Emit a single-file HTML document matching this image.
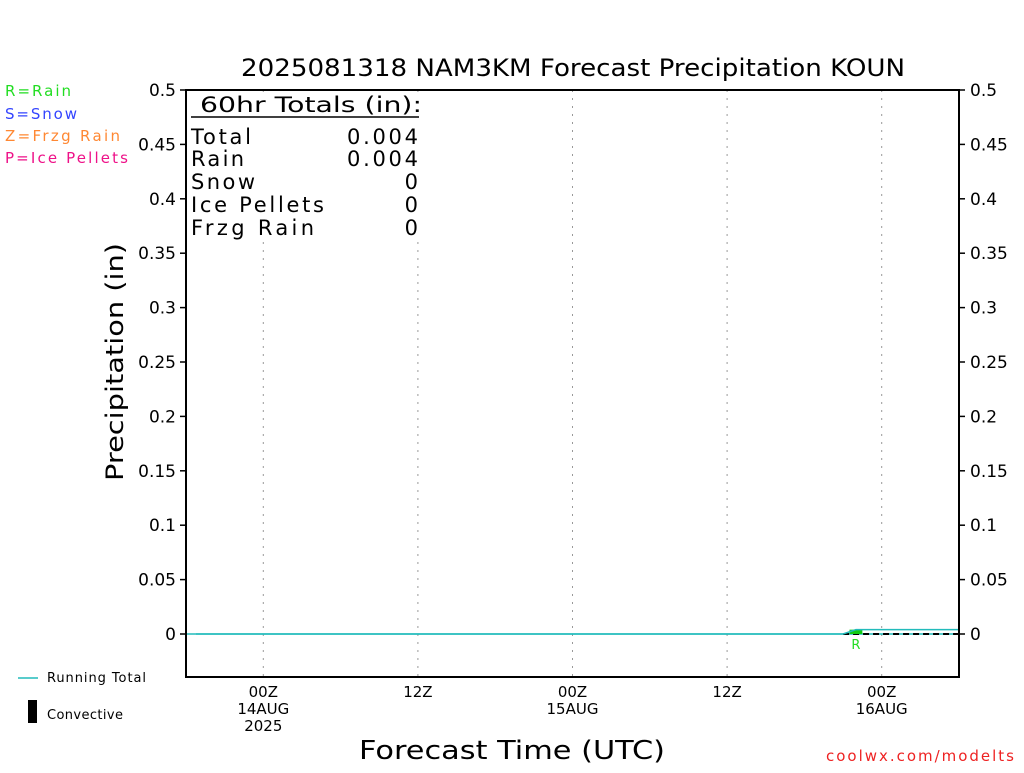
<!DOCTYPE html>
<html><head><meta charset="utf-8"><style>
body{margin:0;background:#fff;width:1024px;height:768px;overflow:hidden}
svg text{font-family:"DejaVu Sans","Liberation Sans",sans-serif}
</style></head><body>
<svg id="chart" width="1024" height="768" xmlns="http://www.w3.org/2000/svg">
<text x="241" y="76" font-size="24" textLength="664" lengthAdjust="spacingAndGlyphs" fill="#000">2025081318 NAM3KM Forecast Precipitation KOUN</text>
<g font-size="15">
<text x="5" y="96" fill="#22dd22" textLength="66">R=Rain</text>
<text x="5" y="119" fill="#3344ff" textLength="72">S=Snow</text>
<text x="5" y="141" fill="#ff8833" textLength="115">Z=Frzg Rain</text>
<text x="5" y="163" fill="#ee1188" textLength="123">P=Ice Pellets</text>
</g>
<g id="grid"></g>
<g id="marks"></g>
<rect x="186" y="90" width="773" height="587" fill="none" stroke="#000" stroke-width="2"/>
<g id="yticks" font-size="17"></g>
<g id="xticks" font-size="15"></g>
<text transform="translate(123,362) rotate(-90)" font-size="24" text-anchor="middle" textLength="238" lengthAdjust="spacingAndGlyphs">Precipitation (in)</text>
<text x="359" y="759" font-size="26" textLength="306" lengthAdjust="spacingAndGlyphs">Forecast Time (UTC)</text>
<g font-size="21" fill="#000">
<rect x="189" y="92" width="232" height="148" fill="#fff"/>
<text x="200" y="112" textLength="222" lengthAdjust="spacingAndGlyphs">60hr Totals (in):</text>
<line x1="191" y1="117" x2="419" y2="117" stroke="#000" stroke-width="1.5"/>
<text x="191" y="144" textLength="60">Total</text><text x="418" y="144" text-anchor="end" textLength="71">0.004</text>
<text x="191" y="166" textLength="53">Rain</text><text x="418" y="166" text-anchor="end" textLength="71">0.004</text>
<text x="191" y="189" textLength="64">Snow</text><text x="418" y="189" text-anchor="end">0</text>
<text x="191" y="212" textLength="133">Ice Pellets</text><text x="418" y="212" text-anchor="end">0</text>
<text x="191" y="235" textLength="123">Frzg Rain</text><text x="418" y="235" text-anchor="end">0</text>
</g>
<g font-size="13">
<line x1="18" y1="678" x2="38" y2="678" stroke="#22bbbb" stroke-width="1.5"/>
<text x="47" y="682" textLength="99">Running Total</text>
<rect x="28" y="700" width="9" height="23" fill="#000"/>
<text x="47" y="719" textLength="76">Convective</text>
</g>
<text x="826" y="761" font-size="15" fill="#ee2222" textLength="188">coolwx.com/modelts</text>
</svg>
<script>
const yTicks=[0,0.05,0.1,0.15,0.2,0.25,0.3,0.35,0.4,0.45,0.5];
const yLabels=["0","0.05","0.1","0.15","0.2","0.25","0.3","0.35","0.4","0.45","0.5"];
const xTickHours=[6,18,30,42,54];
const xTickLabels=[["00Z","14AUG","2025"],["12Z"],["00Z","15AUG"],["12Z"],["00Z","16AUG"]];
const rainHourly=[0,0,0,0,0,0,0,0,0,0,0,0,0,0,0,0,0,0,0,0,0,0,0,0,0,0,0,0,0,0,0,0,0,0,0,0,0,0,0,0,0,0,0,0,0,0,0,0,0,0,0,0,0.004,0,0,0,0,0,0,0,0];
const NS="http://www.w3.org/2000/svg";
const x0=186,x1=959,yb=634,yt=90;
const X=h=>x0+(x1-x0)*h/60;
const Y=v=>yb-(yb-yt)*v/0.5;
function mk(t,a,p){const e=document.createElementNS(NS,t);for(const k in a)e.setAttribute(k,a[k]);p.appendChild(e);return e;}
const yt_=document.getElementById('yticks'),xt=document.getElementById('xticks'),grid=document.getElementById('grid'),marks=document.getElementById('marks');
yTicks.forEach((v,i)=>{
 const y=Y(v);
 const l=mk('line',{x1:180,x2:186,y1:y,y2:y,stroke:'#000','stroke-width':1.5},yt_);
 
 
 const r=mk('line',{x1:959,x2:965,y1:y,y2:y,stroke:'#000','stroke-width':1.5},yt_);
 
 
 const t=mk('text',{x:176,y:y+6,'text-anchor':'end'},yt_);t.textContent=yLabels[i];
 
 
 const t2=mk('text',{x:970,y:y+6},yt_);t2.textContent=yLabels[i];
 
 
});
xTickHours.forEach((h,i)=>{
 const x=X(h);
 const g=mk('line',{x1:x,x2:x,y1:90,y2:677,stroke:'#999','stroke-dasharray':'2,6'},grid);
 
 
 xTickLabels[i].forEach((s,j)=>{
  const t=mk('text',{x:x,y:697+j*17,'text-anchor':'middle'},xt);t.textContent=s;
  
  
 });
});
const z=mk('line',{x1:x0+10,x2:x1,y1:yb,y2:yb,stroke:'#22bbbb','stroke-width':1.5},marks);


let first=rainHourly.findIndex(v=>v>0);
if(first>=0){
 const d=mk('line',{x1:X(first-1),x2:x1,y1:yb,y2:yb,stroke:'#000','stroke-width':2,'stroke-dasharray':'6,4'},marks);
 
 
}
rainHourly.forEach((v,h)=>{
 if(v<=0)return;
 const b=mk('rect',{x:X(h-0.5),y:Y(v),width:X(h+0.5)-X(h-0.5),height:yb-Y(v),fill:'#11cc11'},marks);
 
 
 const t=mk('text',{x:X(h),y:yb+15,'text-anchor':'middle','font-size':13,fill:'#22dd22'},marks);t.textContent='R';
 
 
});
let cum=0,pts=[];
rainHourly.forEach((v,h)=>{cum+=v;pts.push([X(h),Y(cum)]);});
const pl=mk('polyline',{points:pts.map(p=>p.join(',')).join(' '),fill:'none',stroke:'#22bbbb','stroke-width':1.5},marks);


</script>
</body></html>
